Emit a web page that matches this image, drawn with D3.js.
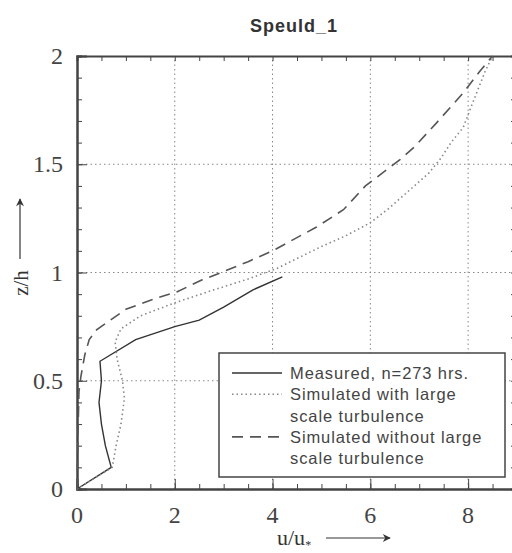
<!DOCTYPE html>
<html>
<head>
<meta charset="utf-8">
<script src="https://cdn.jsdelivr.net/npm/d3@7"></script>
<style>
  body { margin: 0; background: #fff; }
  svg { display: block; }
</style>
</head>
<body>
<div class="div-chart"></div>
<script>
// values (u/u* against z/h)
const measuredU = [0, 0.7, 0.58, 0.5, 0.45, 0.5, 0.47, 1.2, 2.0, 2.5, 3.0, 3.6, 4.2];
const measuredZ = [0, 0.1, 0.2, 0.3, 0.4, 0.5, 0.59, 0.69, 0.75, 0.78, 0.84, 0.92, 0.98];

const withLargeU = [0, 0.72, 0.8, 0.9, 0.97, 0.93, 0.82, 0.78, 0.9, 1.3, 2.0, 2.8, 3.5, 4.1, 5.0, 5.5, 6.0, 6.4, 6.8, 7.2, 7.45, 7.65, 7.9, 8.07, 8.35, 8.5];
const withLargeZ = [0, 0.1, 0.2, 0.3, 0.42, 0.5, 0.6, 0.68, 0.74, 0.8, 0.86, 0.92, 0.97, 1.02, 1.12, 1.17, 1.23, 1.3, 1.38, 1.46, 1.53, 1.6, 1.67, 1.77, 1.93, 2.0];

const withoutLargeU = [0, 0.02, 0.04, 0.08, 0.16, 0.25, 0.4, 0.62, 1.0, 1.6, 2.04, 2.55, 2.95, 3.5, 4.0, 4.9, 5.45, 5.9, 6.6, 6.9, 7.35, 7.9, 8.24, 8.5];
const withoutLargeZ = [0, 0.25, 0.45, 0.52, 0.62, 0.69, 0.735, 0.77, 0.83, 0.88, 0.91, 0.965, 1.0, 1.05, 1.1, 1.21, 1.29, 1.4, 1.52, 1.58, 1.69, 1.83, 1.93, 2.0];

const xTicks = [0, 2, 4, 6, 8];
const yTicks = [0, 0.5, 1, 1.5, 2];
const yTickLabels = ["0", "0.5", "1", "1.5", "2"];

const legendLabels = [
  ["Measured, n=273 hrs."],
  ["Simulated with large", "scale turbulence"],
  ["Simulated without large", "scale turbulence"]
];

const width = 512,
  height = 553;
const margin = { left: 77, top: 56 };
const plotW = 440,
  plotH = 433;

const svg = d3
  .select(".div-chart")
  .append("svg")
  .attr("width", width)
  .attr("height", height)
  .attr("viewBox", `0 0 ${width} ${height}`);

const x = d3.scaleLinear().domain([0, 9]).range([margin.left, margin.left + plotW]);
const y = d3.scaleLinear().domain([0, 2]).range([margin.top + plotH, margin.top]);

const axisColor = "#444";

// grid
const gridG = svg.append("g").attr("id", "grid");
gridG
  .selectAll("line.gx")
  .data(xTicks.filter((d) => d > 0))
  .join("line")
  .attr("class", "gx")
  .attr("x1", (d) => x(d))
  .attr("x2", (d) => x(d))
  .attr("y1", y(0))
  .attr("y2", y(2))
  .attr("stroke", "#888")
  .attr("stroke-width", 1)
  .attr("stroke-dasharray", "1.5,3");
gridG
  .selectAll("line.gy")
  .data(yTicks.filter((d) => d > 0 && d < 2))
  .join("line")
  .attr("class", "gy")
  .attr("x1", x(0))
  .attr("x2", x(9))
  .attr("y1", (d) => y(d))
  .attr("y2", (d) => y(d))
  .attr("stroke", "#888")
  .attr("stroke-width", 1)
  .attr("stroke-dasharray", "1.5,3");

// axes: inward ticks on all four sides
const xMinor = d3.range(0, 9.01, 0.5);
const yMinor = d3.range(0, 2.001, 0.1);

const bottomAxis = d3.axisTop(x).tickValues(xMinor).tickSize(5).tickFormat("");
const topAxis = d3.axisBottom(x).tickValues(xMinor).tickSize(5).tickFormat("");
const leftAxis = d3.axisRight(y).tickValues(yMinor).tickSize(5).tickFormat("");
const rightAxis = d3.axisLeft(y).tickValues(yMinor).tickSize(6).tickFormat("");

function styleAxis(g) {
  g.select(".domain").attr("stroke", axisColor).attr("stroke-width", 2);
  g.selectAll(".tick line").attr("stroke", axisColor).attr("stroke-width", 1);
}

svg.append("g").attr("transform", `translate(0,${y(0)})`).call(bottomAxis).call(styleAxis);
svg.append("g").attr("transform", `translate(0,${y(2)})`).call(topAxis).call(styleAxis);
svg.append("g").attr("transform", `translate(${x(0)},0)`).call(leftAxis).call(styleAxis);
svg.append("g").attr("transform", `translate(${x(9)},0)`).call(rightAxis).call(styleAxis);

// longer ticks at the labelled values
svg.append("g")
  .attr("transform", `translate(0,${y(0)})`)
  .call(d3.axisTop(x).tickValues(xTicks).tickSize(10).tickFormat(""))
  .call(styleAxis);
svg.append("g")
  .attr("transform", `translate(${x(0)},0)`)
  .call(d3.axisRight(y).tickValues(yTicks).tickSize(10).tickFormat(""))
  .call(styleAxis);

// tick labels
svg.append("g")
  .selectAll("text")
  .data(xTicks)
  .join("text")
  .attr("x", (d) => x(d))
  .attr("y", y(0) + 34)
  .attr("text-anchor", "middle")
  .attr("font-family", "Liberation Serif, serif")
  .attr("font-size", 24)
  .attr("fill", "#444")
  .text((d) => d);

svg.append("g")
  .selectAll("text")
  .data(yTicks)
  .join("text")
  .attr("x", x(0) - 14)
  .attr("y", (d) => y(d) + 8)
  .attr("text-anchor", "end")
  .attr("font-family", "Liberation Serif, serif")
  .attr("font-size", 24)
  .attr("fill", "#444")
  .text((d, i) => yTickLabels[i]);

// title
svg.append("text")
  .attr("x", 294)
  .attr("y", 32)
  .attr("text-anchor", "middle")
  .attr("font-family", "Liberation Sans, Arial, sans-serif")
  .attr("font-weight", "bold")
  .attr("font-size", 18)
  .attr("letter-spacing", 1)
  .attr("fill", "#333")
  .text("Speuld_1");

// arrow marker
svg.append("defs")
  .append("marker")
  .attr("id", "arrow")
  .attr("viewBox", "0 0 10 10")
  .attr("refX", 9)
  .attr("refY", 5)
  .attr("markerWidth", 10)
  .attr("markerHeight", 8)
  .attr("markerUnits", "userSpaceOnUse")
  .attr("orient", "auto")
  .append("path")
  .attr("d", "M0,0 L10,5 L0,10 L3,5 Z")
  .attr("fill", "#333");

// x label
const xLab = svg.append("text")
  .attr("x", 277)
  .attr("y", 545)
  .attr("font-family", "Liberation Serif, serif")
  .attr("font-size", 22)
  .attr("fill", "#333");
xLab.append("tspan").text("u/u");
xLab.append("tspan").attr("dy", 4).attr("font-size", 12).text("*");
svg.append("line")
  .attr("x1", 326)
  .attr("x2", 390)
  .attr("y1", 538)
  .attr("y2", 538)
  .attr("stroke", "#333")
  .attr("stroke-width", 1.2)
  .attr("marker-end", "url(#arrow)");

// y label
svg.append("text")
  .attr("transform", "translate(28,283) rotate(-90)")
  .attr("text-anchor", "middle")
  .attr("font-family", "Liberation Serif, serif")
  .attr("font-size", 21)
  .attr("fill", "#333")
  .text("z/h");
svg.append("line")
  .attr("x1", 20)
  .attr("x2", 20)
  .attr("y1", 259)
  .attr("y2", 199)
  .attr("stroke", "#333")
  .attr("stroke-width", 1.2)
  .attr("marker-end", "url(#arrow)");

// profiles
const series = [
  { u: measuredU, z: measuredZ, color: "#333", width: 1.4, dash: null },
  { u: withLargeU, z: withLargeZ, color: "#888", width: 1.6, dash: "1.5,3" },
  { u: withoutLargeU, z: withoutLargeZ, color: "#555", width: 1.6, dash: "11,7" }
];

const line = d3
  .line()
  .x((d) => x(d[0]))
  .y((d) => y(d[1]));

const linesG = svg.append("g").attr("id", "profiles");
linesG
  .selectAll("path")
  .data(series)
  .join("path")
  .attr("d", (s) => line(s.u.map((u, i) => [u, s.z[i]])))
  .attr("fill", "none")
  .attr("stroke", (s) => s.color)
  .attr("stroke-width", (s) => s.width)
  .attr("stroke-dasharray", (s) => s.dash);

// legend
const legendG = svg.append("g").attr("id", "legend");
legendG.append("rect")
  .attr("x", 219)
  .attr("y", 353)
  .attr("width", 286)
  .attr("height", 124)
  .attr("fill", "#fff")
  .attr("stroke", "#444")
  .attr("stroke-width", 1.5);

const lineStep = 21.3;
let row = 0;
series.forEach((s, i) => {
  const y0 = 373 + row * lineStep;
  legendG.append("line")
    .attr("x1", 232)
    .attr("x2", 282)
    .attr("y1", y0)
    .attr("y2", y0)
    .attr("stroke", s.color)
    .attr("stroke-width", s.width)
    .attr("stroke-dasharray", s.dash);
  legendLabels[i].forEach((t, j) => {
    legendG.append("text")
      .attr("x", 290)
      .attr("y", y0 + 6 + j * lineStep)
      .attr("font-family", "Liberation Sans, Arial, sans-serif")
      .attr("font-size", 16.5)
      .attr("letter-spacing", 0.9)
      .attr("fill", "#444")
      .text(t);
  });
  row += legendLabels[i].length;
});
</script>
</body>
</html>
